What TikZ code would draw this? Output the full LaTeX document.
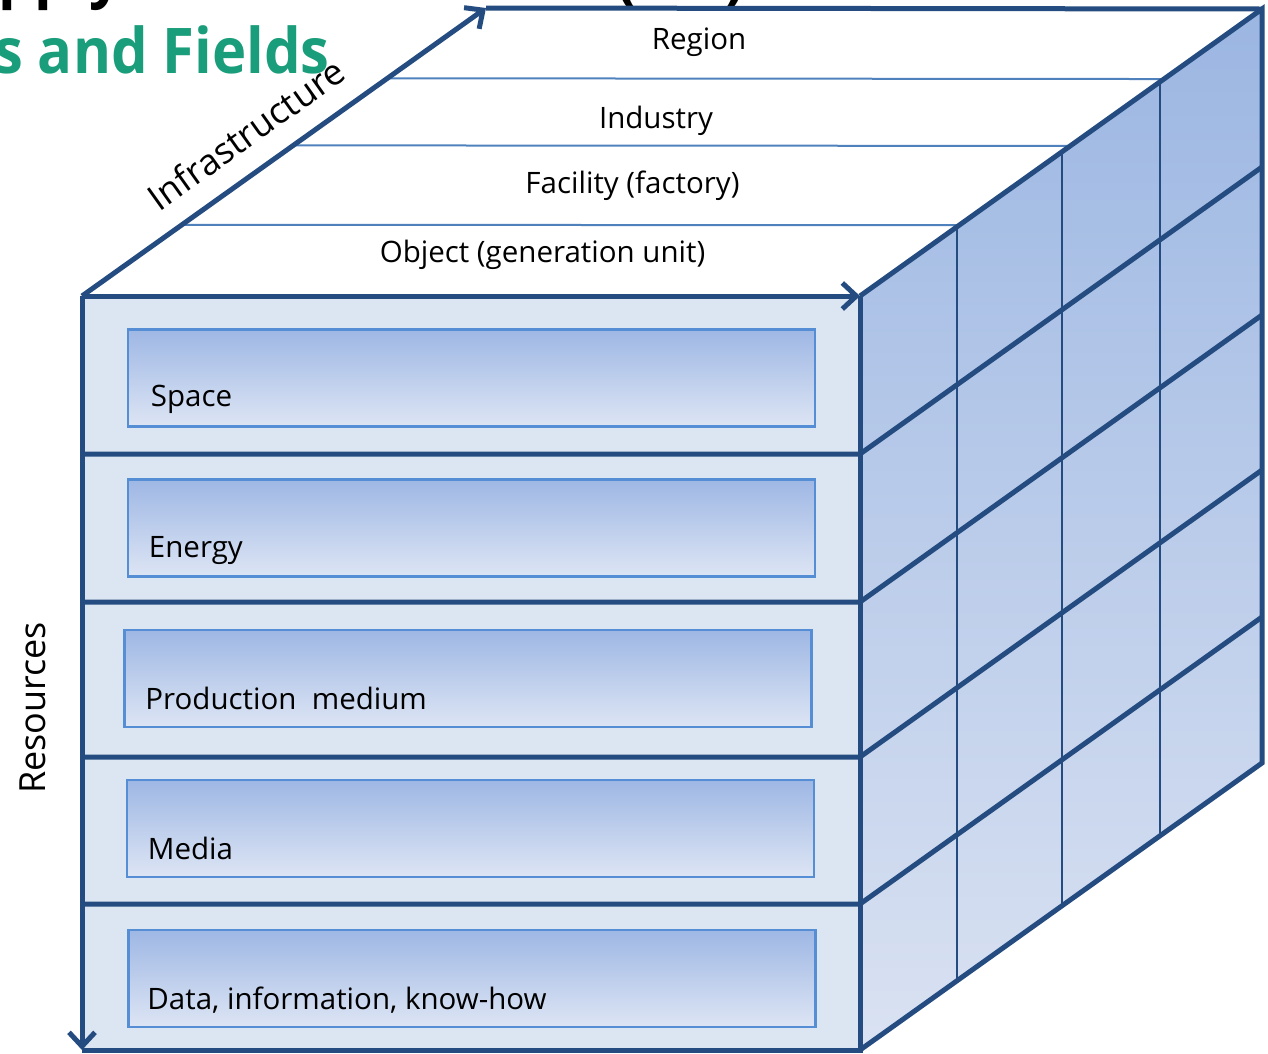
\documentclass[tikz,border=0pt]{standalone}
\usepackage{fontspec}
\setmainfont{Open Sans}
\newfontfamily\titlefont{Open Sans}[FakeStretch=0.92]
\usetikzlibrary{arrows.meta,calc}
\definecolor{cubeblue}{RGB}{36,76,128}
\definecolor{lineblue}{RGB}{79,129,189}
\definecolor{boxblue}{RGB}{85,142,213}
\definecolor{boxtop}{RGB}{158,183,228}
\definecolor{boxbot}{RGB}{221,229,244}
\definecolor{frontfill}{RGB}{220,230,242}
\definecolor{sidetop}{RGB}{155,182,226}
\definecolor{sidebot}{RGB}{218,226,242}
\definecolor{titlegreen}{RGB}{26,157,122}
\tikzset{
>={Straight Barb[length=14pt,width=26pt]},
cubeedge/.style={draw=cubeblue, line width=5pt},
gridline/.style={draw=cubeblue, line width=2pt},
layer/.style={draw=lineblue, line width=2pt},
resbox/.style={draw=boxblue, line width=2.5pt, top color=boxtop, bottom color=boxbot,
  inner sep=0pt, minimum width=687pt, minimum height=97pt},
lbl/.style={font=\fontsize{29.5}{34}\selectfont, inner sep=0pt},
axis/.style={font=\fontsize{36}{40}\selectfont, inner sep=0pt},
heading/.style={font=\titlefont\bfseries\fontsize{63}{68}\selectfont, inner sep=0pt},
}

\begin{document}
\begin{tikzpicture}[x=1pt,y=-1pt]
        \useasboundingbox (0,0) rectangle (1268,1053);
        \clip (0,0) rectangle (1268,1053);

        % title remains
        \node[heading, anchor=base west] (title) at (-2,-5) {pply};
        \node[heading, anchor=base west] (titleparen) at (616,-3) {(\hspace{90pt})};
        \node[heading, anchor=base east, text=titlegreen] (subtitle) at (330,73) {s and Fields};

        % cube corners
        \coordinate (ftl) at (82,296);
        \coordinate (ftr) at (860,296);
        \coordinate (fbl) at (82,1050);
        \coordinate (fbr) at (860,1050);
        \coordinate (btl) at (486,8);
        \coordinate (btr) at (1262,9);
        \coordinate (bbr) at (1262,763);

        \fill[frontfill] (ftl) rectangle (fbr);
        \fill[top color=sidetop, bottom color=sidebot] (ftr) -- (btr) -- (bbr) -- (fbr) -- cycle;

        % top face: infrastructure levels
        \foreach \t in {0.247,0.523,0.756}
            \draw[layer] ($(ftl)!\t!(btl)$) -- ($(ftr)!\t!(btr)$);
        \foreach \t in {0.241,0.502,0.746}
            \draw[gridline] ($(ftr)!\t!(btr)$) -- ($(fbr)!\t!(bbr)$);

        % resource layers
        \foreach \y in {454,602,757,904}
            \draw[cubeedge] (82,\y) -- (860,\y) -- ++(402,-287);

        \node[resbox] (space) at (471.5,378) {};
        \node[resbox] (energy) at (471.5,528) {};
        \node[resbox] (prod) at (468,678.5) {};
        \node[resbox] (media) at (470.5,828.5) {};
        \node[resbox] (data) at (472,978.5) {};

        \node[lbl, anchor=base west, xshift=24pt, yshift=21pt] (spacetxt) at (space.south west) {Space};
        \node[lbl, anchor=base west, xshift=22pt, yshift=20pt] (energytxt) at (energy.south west) {Energy};
        \node[lbl, anchor=base west, xshift=22pt, yshift=19pt] (prodtxt) at (prod.south west) {Production~~medium};
        \node[lbl, anchor=base west, xshift=22pt, yshift=19pt] (mediatxt) at (media.south west) {Media};
        \node[lbl, anchor=base west, xshift=20pt, yshift=19pt] (datatxt) at (data.south west) {Data, information, know-how};

        % outline
        \draw[cubeedge] (ftr) -- (fbr) -- (fbl);
        \draw[cubeedge] (ftr) -- (btr) -- (bbr) -- (fbr);
        \draw[cubeedge] (btl) -- (btr);
        \draw[cubeedge,->] (ftl) -- (fbl);
        \draw[cubeedge,->] (ftl) -- (btl);
        \draw[cubeedge,->] (ftl) -- (ftr);

        \node[lbl, anchor=base] (region) at (699,49) {Region};
        \node[lbl, anchor=base] (industry) at (656,128) {Industry};
        \node[lbl, anchor=base] (facility) at (632.5,193) {Facility (factory)};
        \node[lbl, anchor=base] (object) at (542.5,262) {Object (generation unit)};

        \node[axis, rotate=35.5] (infra) at (246,134) {Infrastructure};
        \node[axis, rotate=90] (res) at (33,708) {Resources};
    \end{tikzpicture}
\end{document}
